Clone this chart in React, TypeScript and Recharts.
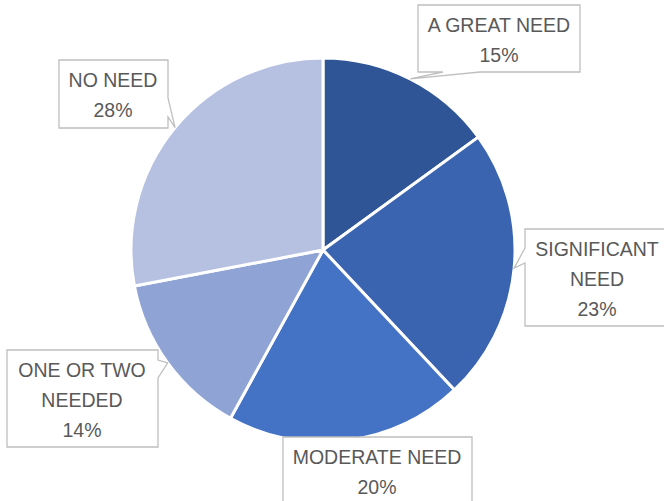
import { Cell, Pie, PieChart } from "recharts";

const categories = ["A GREAT NEED", "SIGNIFICANT NEED", "MODERATE NEED", "ONE OR TWO NEEDED", "NO NEED"];
const shares = [15, 23, 20, 14, 28];
const labelLines = [["A GREAT NEED"], ["SIGNIFICANT", "NEED"], ["MODERATE NEED"], ["ONE OR TWO", "NEEDED"], ["NO NEED"]];
const colors = ["#2F5597", "#3A64B0", "#4472C4", "#8FA3D4", "#B6C1E2"];

const data = categories.map((name, i) => ({ name, value: shares[i] }));

// callout boxes: x, y, w, h, pointer side and base offsets along that edge
const boxes = [
  { x: 418, y: 5, w: 162, h: 67, side: "bottom", a: 25, b: 62, tx: 499 },
  { x: 525, y: 229, w: 150, h: 97, side: "left", a: 19, b: 34, tx: 597 },
  { x: 283, y: 437, w: 189, h: 80, side: "none", a: 0, b: 0, tx: 377 },
  { x: 7, y: 350, w: 151, h: 97, side: "right", a: 10, b: 28, tx: 82 },
  { x: 59, y: 60, w: 109, h: 68, side: "right", a: 38, b: 57, tx: 113 },
];

const RAD = Math.PI / 180;

const Callout = (props: any) => {
  const { cx, cy, midAngle, outerRadius, index, value } = props;
  const bx = boxes[index];
  const px = cx + outerRadius * Math.cos(-midAngle * RAD);
  const py = cy + outerRadius * Math.sin(-midAngle * RAD);
  const { x, y, w, h, side, a, b } = bx;
  let d = "";
  if (side === "bottom") {
    d = `M${x},${y} H${x + w} V${y + h} H${x + b} L${px},${py} L${x + a},${y + h} H${x} Z`;
  } else if (side === "left") {
    d = `M${x},${y} H${x + w} V${y + h} H${x} V${y + b} L${px},${py} L${x},${y + a} Z`;
  } else if (side === "right") {
    d = `M${x},${y} H${x + w} V${y + a} L${px},${py} L${x + w},${y + b} V${y + h} H${x} Z`;
  } else {
    d = `M${x},${y} H${x + w} V${y + h} H${x} Z`;
  }
  const lines = [...labelLines[index], `${value}%`];
  return (
    <g>
      <path d={d} fill="#FFFFFF" stroke="#BFBFBF" strokeWidth={1.3} />
      {lines.map((ln, i) => (
        <text
          key={i}
          x={bx.tx}
          y={y + 20 + i * 30}
          textAnchor="middle"
          dominantBaseline="central"
          fill="#595959"
          fontSize={19.5}
          fontFamily="'Liberation Sans', Arial, sans-serif"
        >
          {ln}
        </text>
      ))}
    </g>
  );
};

const App = () => {
  return (
    <div style={{ position: "absolute", left: 0, top: 0, width: 664, height: 501, background: "#fff" }}>
      <PieChart width={664} height={501} margin={{ top: 0, right: 0, bottom: 0, left: 0 }}>
        <Pie
          data={data}
          dataKey="value"
          nameKey="name"
          cx={323}
          cy={250}
          outerRadius={192}
          startAngle={90}
          endAngle={-270}
          stroke="#FFFFFF"
          strokeWidth={3}
          label={Callout}
          labelLine={false}
          isAnimationActive={false}
        >
          {data.map((d, i) => (
            <Cell key={d.name} fill={colors[i]} />
          ))}
        </Pie>
      </PieChart>
    </div>
  );
};

export default App;
